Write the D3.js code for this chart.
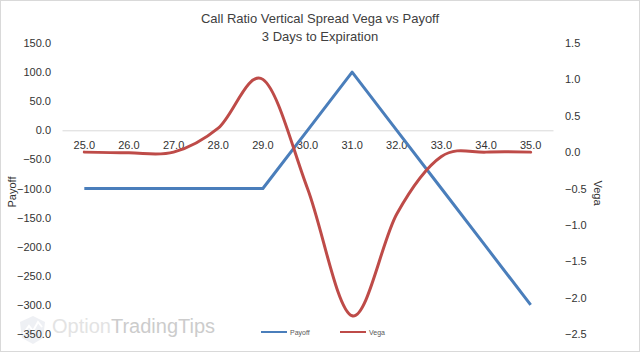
<!DOCTYPE html>
<html>
<head>
<meta charset="utf-8">
<script src="https://cdn.jsdelivr.net/npm/d3@7"></script>
<style>
  body { margin: 0; background: #fff; }
  svg { display: block; font-family: "Liberation Sans", Arial, sans-serif; }
</style>
</head>
<body>
<svg width="640" height="352"></svg>
<script>
// chart data
const strikes = [25, 26, 27, 28, 29, 30, 31, 32, 33, 34, 35];
const payoff = [-100, -100, -100, -100, -100, 0, 100, 0, -100, -200, -300];
const vega = [0, -0.01, 0.0, 0.33, 1.0, -0.5, -2.25, -0.85, -0.06, 0.0, 0.0];
const payoffTicks = [150, 100, 50, 0, -50, -100, -150, -200, -250, -300, -350];
const vegaTicks = [1.5, 1.0, 0.5, 0.0, -0.5, -1.0, -1.5, -2.0, -2.5];

const svg = d3.select("svg");

const area = { left: 62, right: 553, top: 43, bottom: 334 };

// outer frame
svg.append("rect")
    .attr("x", 0.5).attr("y", 0.5)
    .attr("width", 639).attr("height", 351)
    .attr("fill", "#fff")
    .attr("stroke", "#d9d9d9");

// watermark
const wm = svg.append("g").attr("opacity", 0.5);
wm.append("path")
    .attr("d", "M20,322 L33,316 L45,322 L43,338 L33,344 L22,338 Z")
    .attr("fill", "#dfe2ea");
wm.append("path")
    .attr("d", "M23,334 L29,326 L33,331 L38,322 L42,327")
    .attr("fill", "none")
    .attr("stroke", "#ffffff")
    .attr("stroke-width", 2);
const wmText = wm.append("text")
    .attr("x", 52).attr("y", 333)
    .style("font-size", "20px");
wmText.append("tspan").attr("fill", "#c8c8c8").text("Option");
wmText.append("tspan").attr("fill", "#9a9a9a").text("TradingTips");

// title
svg.append("text")
    .attr("x", 320).attr("y", 23)
    .attr("text-anchor", "middle")
    .style("font-size", "13px")
    .style("font-family", "'Liberation Sans Narrow', 'Liberation Sans', sans-serif")
    .attr("fill", "#404040")
    .text("Call Ratio Vertical Spread Vega vs Payoff");
svg.append("text")
    .attr("x", 320).attr("y", 41)
    .attr("text-anchor", "middle")
    .style("font-size", "13px")
    .style("font-family", "'Liberation Sans Narrow', 'Liberation Sans', sans-serif")
    .attr("fill", "#404040")
    .text("3 Days to Expiration");

// scales
const scX = d3.scaleBand()
    .domain(strikes)
    .range([area.left, area.right])
    .padding(0);

const scYLeft = d3.scaleLinear()
    .domain([-350, 150])
    .range([area.bottom, area.top]);

const scYRight = d3.scaleLinear()
    .domain([-2.5, 1.5])
    .range([area.bottom, area.top]);

const cx = d => scX(d) + scX.bandwidth() / 2;

// left axis
const axisLeft = svg.append("g")
    .attr("transform", `translate(${area.left}, 0)`)
    .call(d3.axisLeft(scYLeft).tickValues(payoffTicks).tickFormat(d3.format(".1f")).tickSize(0).tickPadding(11));
axisLeft.select(".domain").remove();
axisLeft.selectAll("text").style("font-size", "11px").attr("fill", "#333");

// right axis
const axisRight = svg.append("g")
    .attr("transform", `translate(${area.right}, 0)`)
    .call(d3.axisRight(scYRight).tickValues(vegaTicks).tickFormat(d3.format(".1f")).tickSize(0).tickPadding(12));
axisRight.select(".domain").remove();
axisRight.selectAll("text").style("font-size", "11px").attr("fill", "#333");

// category axis at payoff zero
const axisX = svg.append("g")
    .attr("transform", `translate(0, ${scYLeft(0)})`)
    .call(d3.axisBottom(scX).tickFormat(d3.format(".1f")).tickSize(0).tickPadding(11));
axisX.select(".domain").attr("stroke", "#d9d9d9");
axisX.selectAll("text").style("font-size", "11px").attr("fill", "#333");

// axis titles
svg.append("text")
    .attr("transform", `translate(16, 192) rotate(-90)`)
    .attr("text-anchor", "middle")
    .style("font-size", "11px")
    .attr("fill", "#333")
    .text("Payoff");
svg.append("text")
    .attr("transform", `translate(594, 193) rotate(90)`)
    .attr("text-anchor", "middle")
    .style("font-size", "11px")
    .attr("fill", "#333")
    .text("Vega");

// payoff line
const linePayoff = d3.line()
    .x((d, i) => cx(strikes[i]))
    .y(d => scYLeft(d));

svg.append("path")
    .datum(payoff)
    .attr("fill", "none")
    .attr("stroke", "#4a7ebb")
    .attr("stroke-width", 3)
    .attr("stroke-linejoin", "round")
    .attr("d", linePayoff);

// vega line (smoothed)
const lineVega = d3.line()
    .x((d, i) => cx(strikes[i]))
    .y(d => scYRight(d))
    .curve(d3.curveCatmullRom.alpha(0));

svg.append("path")
    .datum(vega)
    .attr("fill", "none")
    .attr("stroke", "#be4b48")
    .attr("stroke-width", 3)
    .attr("stroke-linecap", "round")
    .attr("d", lineVega);

// legend
const legendItems = [
    { name: "Payoff", color: "#4a7ebb", x: 261 },
    { name: "Vega", color: "#be4b48", x: 340 }
];
legendItems.forEach(item => {
    svg.append("line")
        .attr("x1", item.x).attr("x2", item.x + 26)
        .attr("y1", 332).attr("y2", 332)
        .attr("stroke", item.color)
        .attr("stroke-width", 2);
    svg.append("text")
        .attr("x", item.x + 29).attr("y", 334.5)
        .style("font-size", "7px")
        .attr("fill", "#595959")
        .text(item.name);
});
</script>
</body>
</html>
